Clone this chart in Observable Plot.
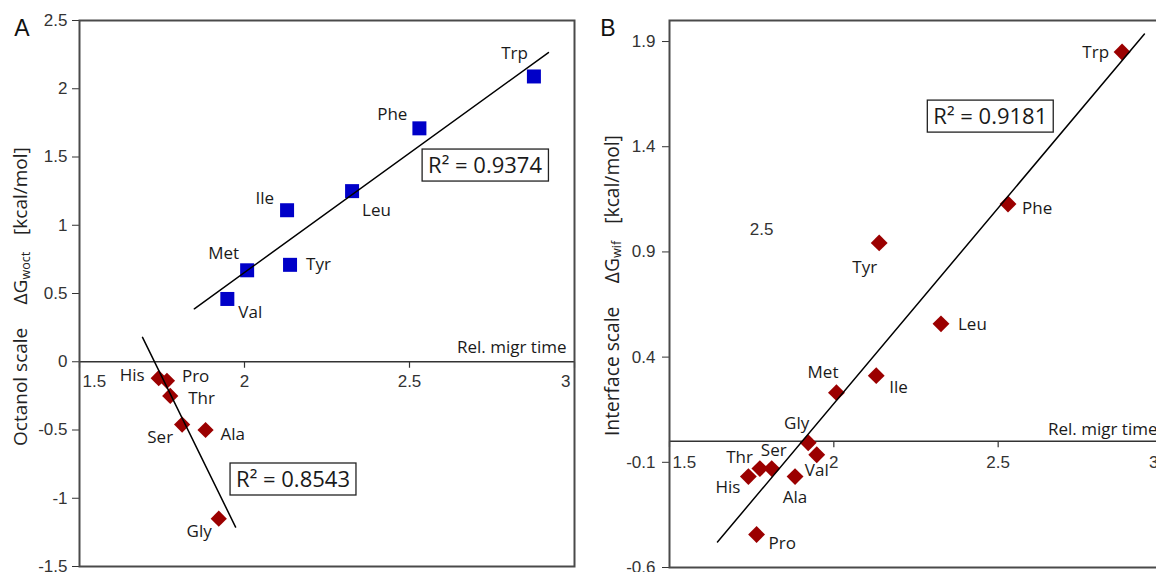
<!DOCTYPE html>
<html>
<head>
<meta charset="utf-8">
<script src="https://cdn.jsdelivr.net/npm/d3@7"></script>
<script src="https://cdn.jsdelivr.net/npm/@observablehq/plot@0.6"></script>
<style>
  html, body { margin: 0; padding: 0; background: #fff; overflow: hidden; }
  #wrap { position: relative; width: 1156px; height: 572px; overflow: hidden; }
  #panelA { position: absolute; left: 0; top: 0; width: 590px; }
  #panelB { position: absolute; left: 590px; top: 0; width: 600px; }
  svg { max-width: none !important; }
</style>
</head>
<body>
<div id="wrap"><div id="panelA"></div><div id="panelB"></div></div>
<script>
// ---------- data ----------
const aminoAcids   = ["His", "Pro", "Thr", "Ser", "Ala", "Gly", "Val", "Met", "Ile", "Tyr", "Leu", "Phe", "Trp"];
const relMigrTime  = [1.740, 1.765, 1.775, 1.811, 1.882, 1.922, 1.948, 2.008, 2.129, 2.138, 2.326, 2.530, 2.877];
const octanolDG    = [-0.12, -0.14, -0.25, -0.46, -0.50, -1.15, 0.46, 0.67, 1.11, 0.71, 1.25, 1.71, 2.09];
const octanolGroup = ["polar", "polar", "polar", "polar", "polar", "polar",
                      "apolar", "apolar", "apolar", "apolar", "apolar", "apolar", "apolar"];
const interfaceDG  = [-0.168, -0.443, -0.13, -0.13, -0.168, -0.007, -0.064, 0.231, 0.312, 0.943, 0.558, 1.128, 1.85];
const r2Octanol    = {apolar: "0.9374", polar: "0.8543"};
const r2Interface  = "0.9181";
const xTicks       = [1.5, 2, 2.5, 3];
const yTicksA      = [-1.5, -1, -0.5, 0, 0.5, 1, 1.5, 2, 2.5];
const yTicksB      = [-0.6, -0.1, 0.4, 0.9, 1.4, 1.9];
const xAxisTitle   = "Rel. migr time";
// extents (x) over which the fitted trend lines are drawn
const trendRangeA  = {apolar: [1.848, 2.921], polar: [1.691, 1.973]};
const trendRangeB  = [1.646, 2.945];

// ---------- layout / style ----------
const tickFont  = "Liberation Sans, Arial, sans-serif";
const labelFont = "Open Sans, Noto Sans, sans-serif";
const blue = "#0000c8", red = "#9b0000", ink = "#1a1a1a", axisInk = "#333";
// [anchor, dx, dy] for each point label
const labelLayoutA = {
  Trp: ["end", -6, -23], Phe: ["end", -12, -14], Leu: ["start", 10, 19], Ile: ["end", -13, -12],
  Tyr: ["start", 16, 0], Met: ["end", -8, -17], Val: ["start", 11, 14], His: ["end", -14, -3],
  Pro: ["start", 15, -4], Thr: ["start", 18, 3], Ser: ["end", -9, 13], Ala: ["start", 15, 5],
  Gly: ["end", -7, 13]
};
const labelLayoutB = {
  Trp: ["end", -13, 0], Phe: ["start", 14, 5], Tyr: ["end", -2, 25], Leu: ["start", 17, 1],
  Ile: ["start", 13, 12], Met: ["end", 2, -20], Gly: ["end", 1, -19], Val: ["middle", 0, 16],
  Ser: ["middle", 2, -18], Thr: ["end", -7, -11], His: ["end", -8, 11], Ala: ["middle", 0, 21],
  Pro: ["start", 12, 9]
};
// annotation anchors (data coordinates)
const r2PosA = {apolar: [2.729, 1.434], polar: [2.147, -0.866]};
const r2PosB = [2.476, 1.541];
const strayLabelB = {text: "2.5", x: 1.78, y: 1.005};

// ---------- helpers ----------
const rows = aminoAcids.map((name, i) => ({
  name, t: relMigrTime[i], oct: octanolDG[i], wif: interfaceDG[i], group: octanolGroup[i]
}));

function fit(data, key) {
  const mx = d3.mean(data, d => d.t), my = d3.mean(data, d => d[key]);
  const sxy = d3.sum(data, d => (d.t - mx) * (d[key] - my));
  const sxx = d3.sum(data, d => (d.t - mx) ** 2);
  const slope = sxy / sxx;
  return x => my + slope * (x - mx);
}
function trendLine(data, key, range) {
  const f = fit(data, key);
  return Plot.line(range.map(x => ({t: x, v: f(x)})), {x: "t", y: "v", stroke: "#000", strokeWidth: 1.5});
}
const tickDown = {draw(ctx, size) { const l = Math.sqrt(size / Math.PI); ctx.moveTo(0, 0); ctx.lineTo(0, l); }};

function xAxisMarks(dyLabel, titleDx, titleDy) {
  const anchors = {1.5: ["start", 3], 2: ["middle", 0], 2.5: ["middle", 0], 3: ["end", -4]};
  return [
    Plot.ruleY([0], {stroke: axisInk, strokeWidth: 1.5}),
    Plot.dot(xTicks, {x: d => d, y: () => 0, symbol: tickDown, r: 6, stroke: axisInk, fill: "none", strokeWidth: 1.2}),
    ...xTicks.map(v => Plot.text([v], {x: d => d, y: () => 0, text: d => String(d), dy: dyLabel,
      dx: anchors[v][1], textAnchor: anchors[v][0], fontSize: 17, fontFamily: tickFont, fill: axisInk})),
    Plot.text([xAxisTitle], {x: () => 3, y: () => 0, text: d => d, textAnchor: "end", dx: titleDx, dy: titleDy,
      fontSize: 17, fontFamily: labelFont, fill: ink})
  ];
}
function labelMarks(data, key, layout) {
  return data.map(d => {
    const [anchor, dx, dy] = layout[d.name];
    return Plot.text([d], {x: "t", y: key, text: "name", textAnchor: anchor, dx, dy,
      fontSize: 17, fontFamily: labelFont, fill: ink});
  });
}
function r2Mark(value, pos) {
  return Plot.text([value], {x: () => pos[0], y: () => pos[1], text: d => "R² = " + d,
    fontSize: 22, fontFamily: labelFont, fill: ink, className: "r2label"});
}
function boxes(svg) {
  const s = d3.select(svg);
  const sr = svg.getBoundingClientRect();
  s.selectAll(".r2label text").each(function () {
    const r = this.getBoundingClientRect();
    s.insert("rect", ".r2label")
      .attr("x", r.left - sr.left - 6).attr("y", r.top - sr.top)
      .attr("width", r.width + 12).attr("height", r.height + 2)
      .attr("fill", "white").attr("stroke", "#222").attr("stroke-width", 1.3);
  });
}
function letter(svg, txt, x) {
  d3.select(svg).append("text").attr("x", x).attr("y", 36).attr("text-anchor", "middle")
    .style("font-family", tickFont).style("font-size", "23px").attr("fill", "#111").text(txt);
}
// rotated y-title drawn from yStart upward
function yTitle(svg, x, yStart, mainTitle, sub, font, g1, g2) {
  const t = d3.select(svg).append("text")
    .attr("transform", `translate(${x},${yStart}) rotate(-90)`)
    .attr("text-anchor", "start").attr("dominant-baseline", "central")
    .style("font-family", labelFont).style("font-size", font + "px").attr("fill", "#222");
  t.append("tspan").text(mainTitle);
  t.append("tspan").attr("dx", g1).text("ΔG");
  t.append("tspan").attr("dy", font * 0.28).style("font-size", (font * 0.66) + "px").text(sub);
  t.append("tspan").attr("dy", -font * 0.28).attr("dx", g2).text("[kcal/mol]");
  return t;
}
// fit a title between yStart and yEnd (upward)
function fittedTitle(svg, x, yStart, yEnd, mainTitle, sub) {
  const target = yStart - yEnd;
  const probe = yTitle(svg, x, yStart, mainTitle, sub, 18, 22, 16);
  const k = target / probe.node().getBBox().width;
  probe.remove();
  yTitle(svg, x, yStart, mainTitle, sub, 18 * k, 22 * k, 16 * k);
}

// ---------- panel A ----------
const apolar = rows.filter(d => d.group === "apolar");
const polar = rows.filter(d => d.group === "polar");
const svgA = Plot.plot({
  width: 590, height: 572, marginLeft: 79, marginRight: 16, marginTop: 20, marginBottom: 6,
  style: {fontFamily: tickFont, fontSize: "17px", color: axisInk, background: "transparent", overflow: "visible"},
  x: {domain: [1.5, 3], axis: null},
  y: {domain: [-1.5, 2.5], ticks: yTicksA, tickSize: 7, tickPadding: 5, tickFormat: d => String(d), label: null},
  marks: [
    ...xAxisMarks(20, -8, -14),
    Plot.dot(apolar, {x: "t", y: "oct", symbol: "square", r: 7.9, fill: blue}),
    Plot.dot(polar, {x: "t", y: "oct", symbol: "diamond2", r: 7.3, fill: red}),
    trendLine(apolar, "oct", trendRangeA.apolar),
    trendLine(polar, "oct", trendRangeA.polar),
    ...labelMarks(rows, "oct", labelLayoutA),
    r2Mark(r2Octanol.apolar, r2PosA.apolar),
    r2Mark(r2Octanol.polar, r2PosA.polar),
    Plot.frame({stroke: "#4a4a4a", strokeWidth: 2})
  ]
});
document.getElementById("panelA").appendChild(svgA);
boxes(svgA);
letter(svgA, "A", 22);
fittedTitle(svgA, 20, 446, 147, "Octanol scale", "woct");

// ---------- panel B ----------
const svgB = Plot.plot({
  width: 582, height: 572, marginLeft: 79, marginRight: 10, marginTop: 20, marginBottom: 5,
  style: {fontFamily: tickFont, fontSize: "17px", color: axisInk, background: "transparent", overflow: "visible"},
  x: {domain: [1.5, 3], axis: null},
  y: {domain: [-0.6, 2.0], ticks: yTicksB, tickSize: 7, tickPadding: 7, tickFormat: d => String(d), label: null},
  marks: [
    ...xAxisMarks(21, -5, -12),
    Plot.text([strayLabelB], {x: "x", y: "y", text: "text", fontSize: 17, fontFamily: tickFont, fill: axisInk}),
    Plot.dot(rows, {x: "t", y: "wif", symbol: "diamond2", r: 7.6, fill: red}),
    trendLine(rows, "wif", trendRangeB),
    ...labelMarks(rows, "wif", labelLayoutB),
    r2Mark(r2Interface, r2PosB),
    Plot.frame({stroke: "#4a4a4a", strokeWidth: 2})
  ]
});
document.getElementById("panelB").appendChild(svgB);
boxes(svgB);
letter(svgB, "B", 18);
fittedTitle(svgB, 21, 436, 135, "Interface scale", "wif");
</script>
</body>
</html>
